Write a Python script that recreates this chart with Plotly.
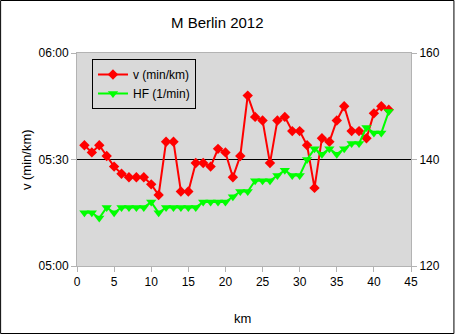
import plotly.graph_objects as go

km = list(range(1, 43))
pace = ["05:34", "05:32", "05:34", "05:31", "05:28", "05:26", "05:25", "05:25", "05:25", "05:23",
        "05:20", "05:35", "05:35", "05:21", "05:21", "05:29", "05:29", "05:28", "05:33", "05:32",
        "05:25", "05:31", "05:48", "05:42", "05:41", "05:29", "05:41", "05:42", "05:38", "05:38",
        "05:34", "05:22", "05:36", "05:35", "05:41", "05:45", "05:38", "05:38", "05:36", "05:43",
        "05:45", "05:44"]
hf = [130, 130, 129, 131, 130, 131, 131, 131, 131, 132,
      130, 131, 131, 131, 131, 131, 132, 132, 132, 132,
      133, 134, 134, 136, 136, 136, 137, 138, 137, 137,
      140, 142, 141, 142, 141, 142, 143, 143, 146, 145,
      145, 149]
pace_ticks = ["05:00", "05:30", "06:00"]
hf_ticks = [120, 140, 160]
x_ticks = [0, 5, 10, 15, 20, 25, 30, 35, 40, 45]


def to_sec(s):
    m, sec = s.split(":")
    return int(m) * 60 + int(sec)


pace_s = [to_sec(p) for p in pace]

W, H = 455, 334
L, R, T, B = 77, 411.5, 53, 266


def px(x):
    return (x - L) / (R - L)


def py(y):
    return 1 - (y - T) / (B - T)


font = dict(family="Liberation Sans, Arial, sans-serif", size=12, color="black")
axcol = "#b3b3b3"

fig = go.Figure()
fig.add_trace(go.Scatter(x=km, y=pace_s, name="v (min/km)", mode="lines+markers",
                         line=dict(color="#ff0000", width=2),
                         marker=dict(symbol="diamond", size=8, color="#ff0000")))
fig.add_trace(go.Scatter(x=km, y=hf, name="HF (1/min)", mode="lines+markers", yaxis="y2",
                         line=dict(color="#00ff00", width=2),
                         marker=dict(symbol="triangle-down", size=9, color="#00ff00")))

fig.update_layout(
    width=W, height=H,
    margin=dict(l=L, r=W - R, t=T, b=H - B),
    paper_bgcolor="white", plot_bgcolor="#d9d9d9",
    font=font,
    showlegend=True,
    legend=dict(x=px(92), y=py(59), xanchor="left", yanchor="top",
                bgcolor="#d9d9d9", bordercolor="black", borderwidth=1,
                font=dict(size=12), tracegroupgap=0, itemwidth=30),
    xaxis=dict(range=[0, 45], tickvals=x_ticks, ticks="outside", ticklen=5, tickcolor=axcol,
               showline=True, linecolor=axcol, mirror=True, showgrid=False, zeroline=False,
               tickfont=dict(size=12)),
    yaxis=dict(range=[to_sec("05:00"), to_sec("06:00")],
               tickvals=[to_sec(t) for t in pace_ticks], ticktext=pace_ticks,
               ticks="outside", ticklen=5, tickcolor=axcol, showline=True, linecolor=axcol,
               mirror=True, showgrid=True, gridcolor="black", gridwidth=1, zeroline=False,
               tickfont=dict(size=12)),
    yaxis2=dict(range=[120, 160], tickvals=hf_ticks, overlaying="y", side="right",
                ticks="outside", ticklen=5, tickcolor=axcol, showline=True, linecolor=axcol,
                showgrid=False, zeroline=False, tickfont=dict(size=12)),
    annotations=[
        dict(text="M Berlin 2012", x=px(217.5), y=py(23), xref="paper", yref="paper",
             xanchor="center", yanchor="middle", showarrow=False, font=dict(size=15)),
        dict(text="v (min/km)", x=px(26), y=py(160),
             xref="paper", yref="paper", textangle=-90, xanchor="center", yanchor="middle",
             showarrow=False, font=dict(size=13)),
        dict(text="km", x=px(243), y=py(318),
             xref="paper", yref="paper", xanchor="center", yanchor="middle",
             showarrow=False, font=dict(size=13)),
    ],
    shapes=[
        dict(type="rect", xref="paper", yref="paper",
             x0=px(0.5), x1=px(W - 0.5), y0=py(H - 0.5), y1=py(0.5),
             line=dict(color="black", width=1), fillcolor="rgba(0,0,0,0)", layer="above"),
    ],
)

fig.write_html("out.html")
